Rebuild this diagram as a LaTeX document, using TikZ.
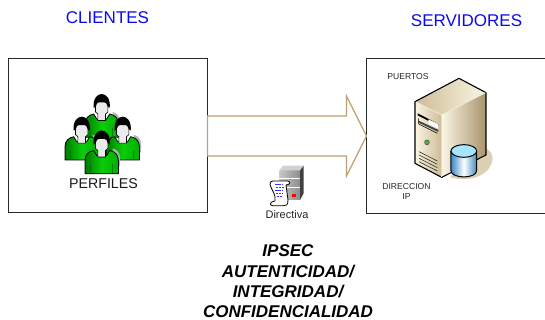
\documentclass[tikz,border=0pt]{standalone}
\usepackage{fontspec}
\setmainfont{Liberation Sans}
\definecolor{tan1}{RGB}{190,160,115}
\definecolor{frameC}{RGB}{40,40,40}
\definecolor{titleC}{RGB}{10,10,240}
\definecolor{gBright}{RGB}{10,205,10}
\definecolor{gMid}{RGB}{0,175,0}
\definecolor{gDark}{RGB}{0,120,0}
\definecolor{beigeA}{RGB}{250,245,228}
\definecolor{beigeB}{RGB}{205,188,150}
\definecolor{beigeC}{RGB}{168,148,108}
\definecolor{shadowT}{RGB}{218,208,178}
\tikzset{
  frameBox/.style={draw=frameC,line width=1pt,fill=white},
  titleText/.style={text=titleC,font=\fontsize{17}{19}\selectfont,inner sep=0pt},
  smallText/.style={font=\fontsize{8.6}{10}\selectfont,inner sep=0pt,text=black!85},
  midText/.style={font=\fontsize{14.2}{16}\selectfont,inner sep=0pt,text=black!90},
  ipsecText/.style={font=\fontsize{17}{19}\selectfont\bfseries\itshape,inner sep=0pt},
  outlineK/.style={draw=black,line width=0.8pt,line join=round},
  person/.pic={
    % shadow
    \fill[black!30] (18.3,36) -- (18.3,27) .. controls (18,22) and (15,19) .. (11,18) -- (12,36) -- cycle;
    % body
    \draw[outlineK,left color=gDark,right color=gMid,middle color=gBright]
      (-16.7,43.3) -- (-16.7,30) .. controls (-16.7,24) and (-13,21) .. (-8,20)
      -- (-5,25) -- (5,25) -- (8,20) .. controls (13,21) and (16.7,24) .. (16.7,30) -- (16.7,43.3) -- cycle;
    \draw[gDark,line width=.6pt] (-11,43) -- (-11,34) (11,43) -- (11,34);
    % face
    \draw[draw=black,line width=.6pt,fill=black!8]
      (-6.2,6) -- (6.2,6) -- (6.2,18) -- (3.8,20) -- (3.8,26.5) -- (-3.8,26.5) -- (-3.8,20) -- (-6.2,18) -- cycle;
    % hair
    \fill[black] (-8,14) .. controls (-9,4) and (-4,0) .. (0,0) .. controls (4,0) and (9,4) .. (8,14)
      -- (6,12.5) .. controls (5.5,9.5) and (4,8.5) .. (3,8.5) -- (-3,8.5) .. controls (-4,8.5) and (-5.5,9.5) .. (-6,12.5) -- cycle;
  },
}
\begin{document}
\begin{tikzpicture}[x=1pt,y=-1pt]
\useasboundingbox[fill=white] (0,0) rectangle (545,320);
% frames
\path[frameBox] (8,59) rectangle (207.5,212.5);
\draw[frameC,line width=1pt] (546,59) -- (366.5,59) -- (366.5,213) -- (546,213);
\coordinate (arrowRoot) at (207.5,136);
\coordinate (arrowTip) at (366.5,136);
% arrow
\draw[tan1,line width=1.2pt,line join=miter,fill=white]
  (arrowRoot |- 0,116) -- (346.5,116) -- (346.5,96) -- (arrowTip) -- (346.5,176) -- (346.5,156) -- (arrowRoot |- 0,156) -- cycle;
% titles
\node[titleText] (clientes) at (107.5,18) {CLIENTES};
\node[titleText] (servidores) at (466.5,21) {SERVIDORES};
% persons
\pic at (101.7,94) {person};
\pic at (81.7,116.7) {person};
\pic at (122.7,116.7) {person};
\pic at (101.7,130.5) {person};
\node[midText] (perfiles) at (103.5,184) {PERFILES};
% server
\begin{scope}[shift={(360,50)},x=0.3333pt,y=-0.3333pt]
  \fill[shadowT] (270,382) .. controls (340,400) and (395,370) .. (398,325) .. controls (398,312) and (388,300) .. (378,295) -- (340,300) -- cycle;
  \shade[left color=beigeA,right color=beigeB] (165,155) -- (245,195) -- (245,382) -- (165,340) -- cycle;
  \shade[left color=beigeA,right color=beigeC] (245,195) -- (378,128) -- (378,315) -- (245,382) -- cycle;
  \shade[left color=beigeB,right color=beigeA] (165,155) -- (297,85) -- (378,128) -- (245,195) -- cycle;
  \draw[black,line width=1.1pt,line join=round] (165,155) -- (297,85) -- (378,128) -- (378,315) -- (245,382) -- (165,340) -- cycle;
  \draw[white!70!beigeB,line width=.8pt] (168,156) -- (245,195) -- (376,128);
  \draw[white!50!beigeB,line width=.8pt] (245,197) -- (245,380);
  % drive slots
  \fill[black] (173,190) -- (235,222) -- (235,228) -- (173,196) -- cycle;
  \fill[black!75] (176,212) -- (235,240) -- (235,246) -- (176,218) -- cycle;
  \fill[white] (205,208) -- (235,222) -- (235,236) -- (205,222) -- cycle;
  \draw[black,line width=.6pt] (176,222) -- (232,250) (176,205) -- (176,222);
  % button
  \draw[black!70,line width=.6pt,fill=green!45!gray] (201,277) circle[radius=7];
  % grille
  \foreach \d in {0,10,20,30}{
    \draw[black!80,line width=.6pt] (177,305+\d) -- (232,333+\d);
  }
  % cylinder
  \shade[left color=blue!45!cyan!55!gray,right color=blue!40!cyan!50!gray,middle color=white]
    (273,303) -- (273,362) .. controls (273,387) and (350,387) .. (350,362) -- (350,303) -- cycle;
  \draw[black,line width=1pt] (273,303) -- (273,362) .. controls (273,387) and (350,387) .. (350,362) -- (350,303);
  \draw[black,line width=1pt,fill=blue!30!cyan!35!white] (311.5,303) ellipse[x radius=38.5,y radius=19];
\end{scope}
\node[smallText] (puertos) at (408,77) {PUERTOS};
\node[smallText] (direccion) at (406.5,187) {DIRECCION};
\node[smallText] (ip) at (406.5,197) {IP};
% Directiva icon
\begin{scope}[shift={(200,85)},x=0.3333pt,y=-0.3333pt]
  \fill[black!75] (300,252) -- (311,242) -- (311,325) -- (300,345) -- cycle;
  \shade[left color=black!22,right color=black!45] (238,256) -- (300,256) -- (300,345) -- (238,345) -- cycle;
  \fill[black!18] (238,256) -- (250,242) -- (311,242) -- (300,256) -- cycle;
  \draw[white,line width=.7pt] (238,280) -- (300,280) (238,308) -- (300,308);
  \fill[red] (276,326) rectangle (288,336);
  \draw[black,line width=.8pt,fill=white,line join=round]
    (218,288) -- (262,288) .. controls (272,288) and (272,300) .. (258,300)
    -- (264,345) .. controls (264,362) and (258,362) .. (250,362)
    -- (218,362) .. controls (208,362) and (208,350) .. (225,348)
    -- (225,335) .. controls (222,320) and (212,310) .. (210,298) .. controls (210,292) and (214,288) .. (218,288) -- cycle;
  \foreach \yy/\xa/\xb in {297/226/250,306/228/254,315/226/246,324/228/250,333/230/248}{
    \draw[blue!80,line width=.8pt,dash pattern=on 2.2pt off .9pt] (\xa,\yy) -- (\xb,\yy);
  }
\end{scope}
\node[font=\fontsize{11}{12}\selectfont,inner sep=0pt,text=black!85] (directiva) at (287,214.5) {Directiva};
% bottom text
\node[ipsecText] (l1) at (288,251) {IPSEC};
\node[ipsecText] (l2) at (288,272) {AUTENTICIDAD/};
\node[ipsecText] (l3) at (288,292) {INTEGRIDAD/};
\node[ipsecText] (l4) at (288,311.5) {CONFIDENCIALIDAD};
\end{tikzpicture}
\end{document}
